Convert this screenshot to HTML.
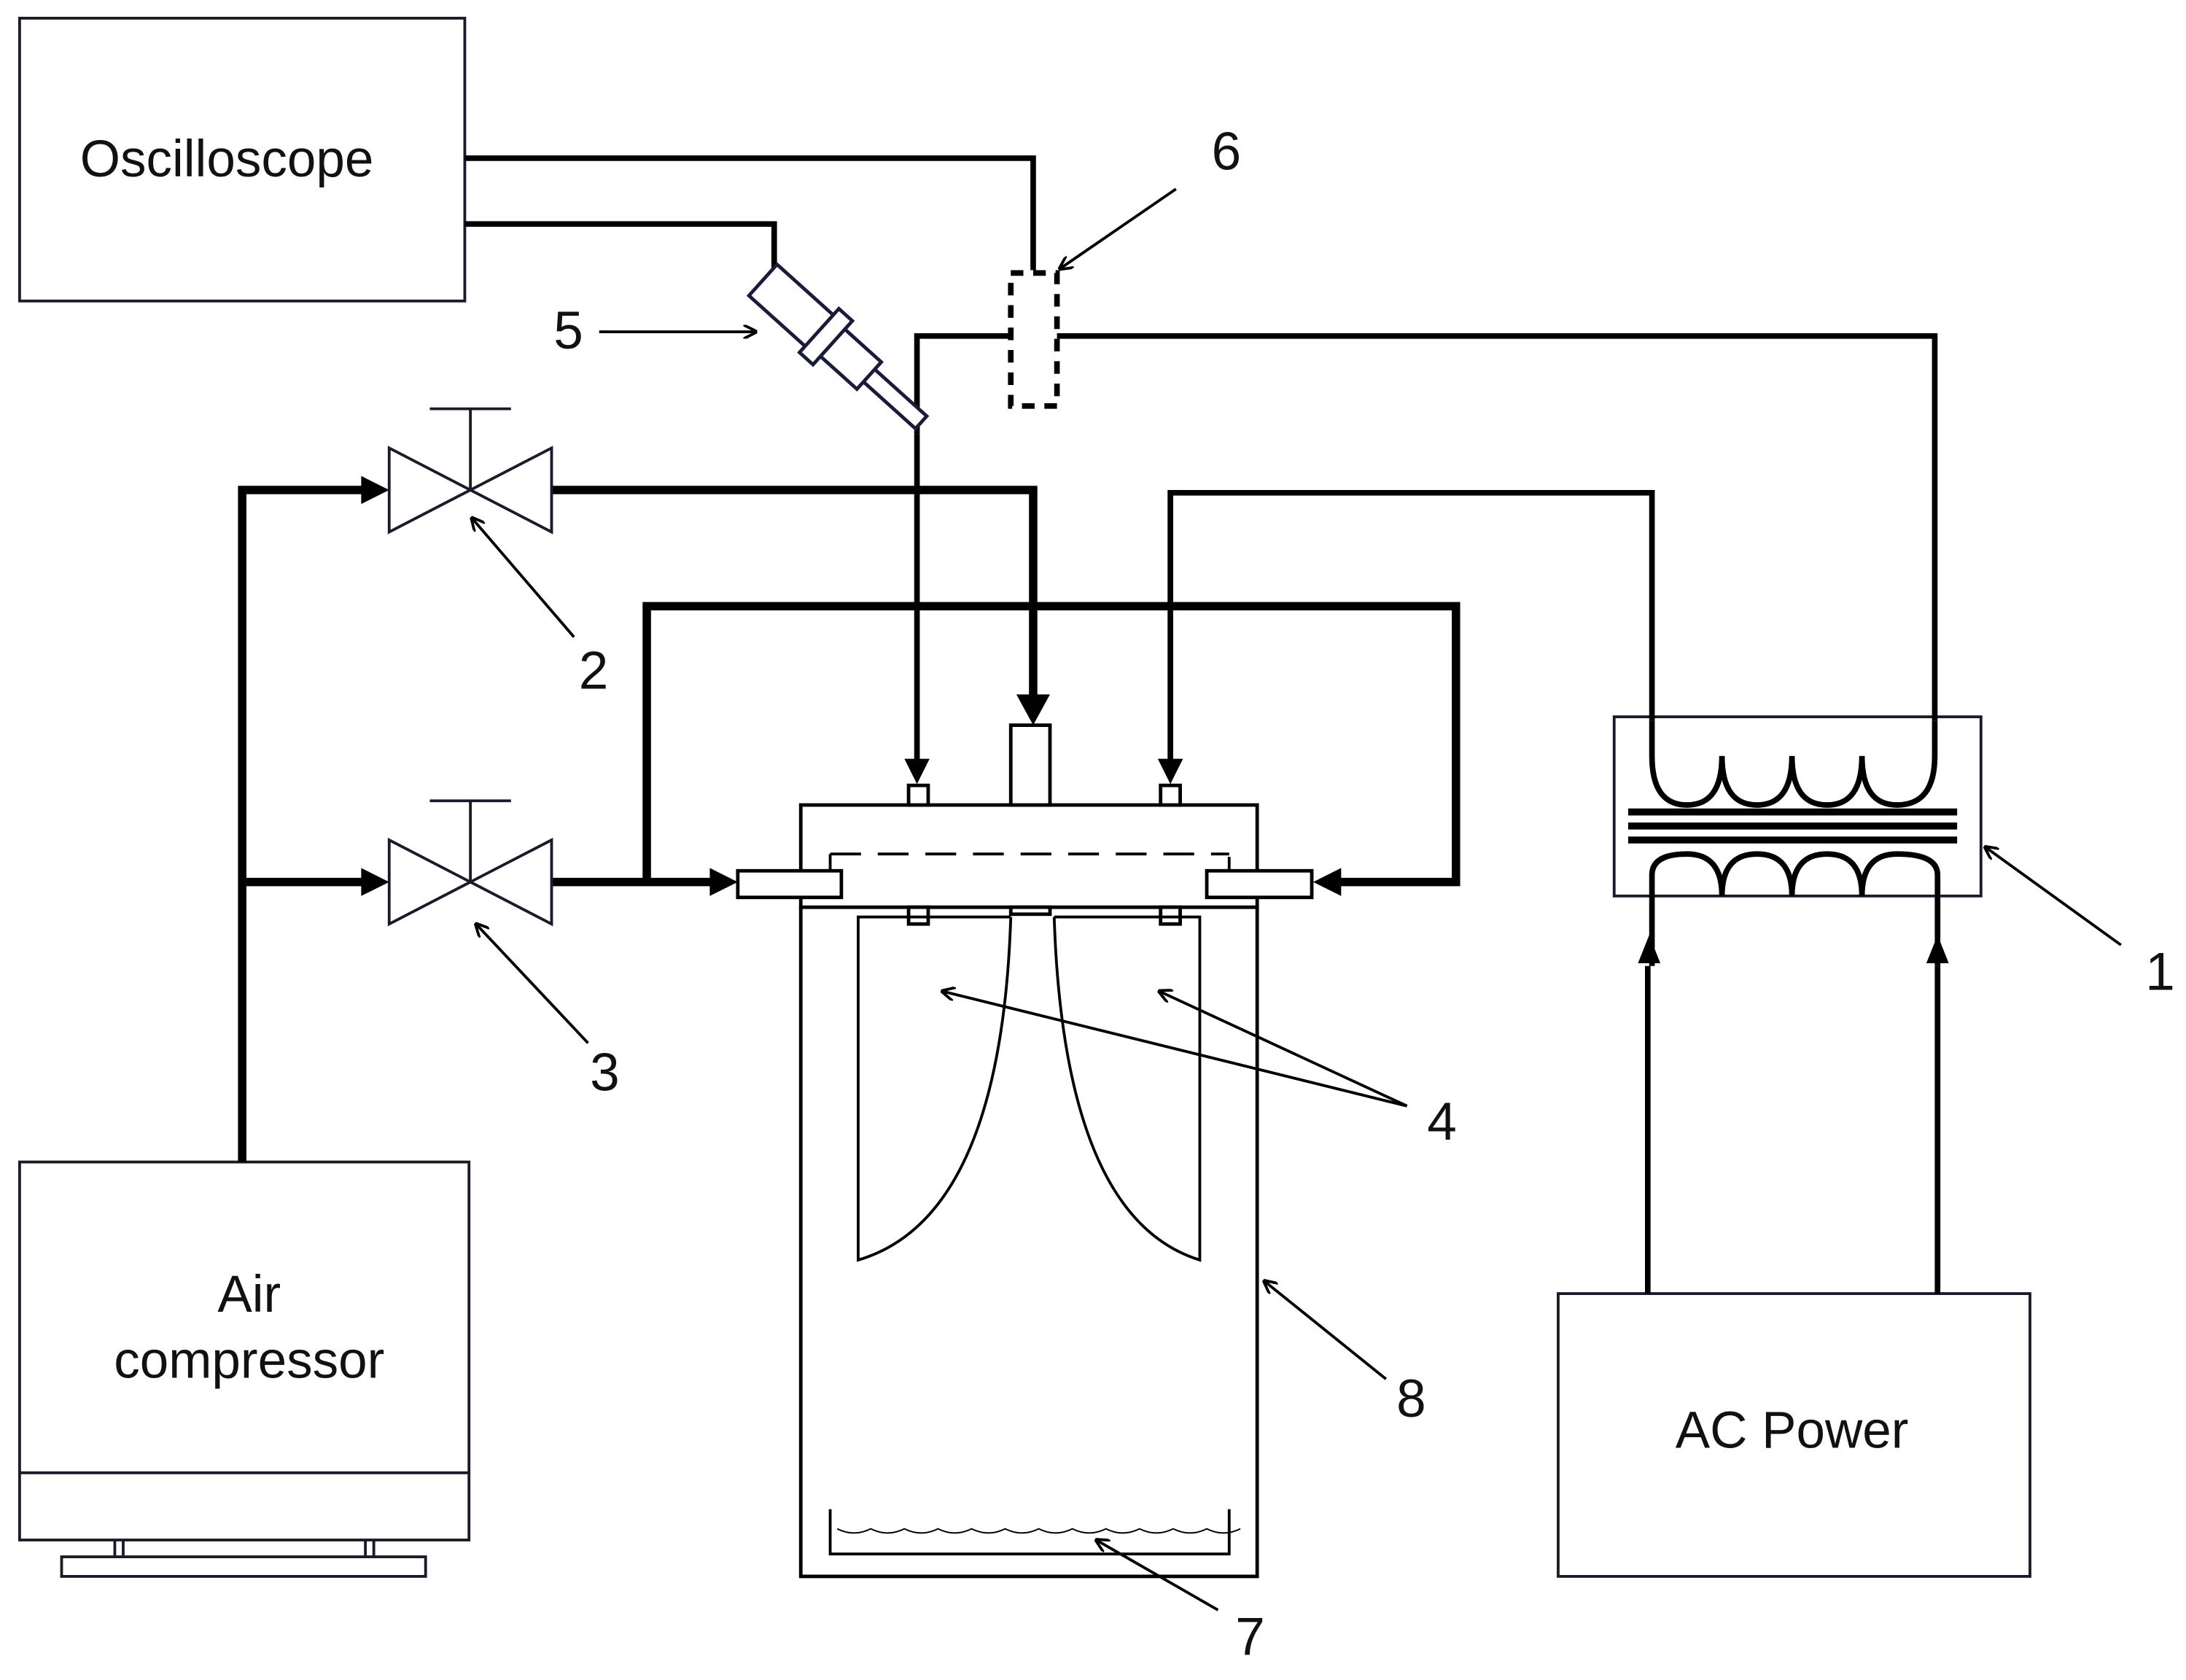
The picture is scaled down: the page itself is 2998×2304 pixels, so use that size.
<!DOCTYPE html>
<html><head><meta charset="utf-8"><style>html,body{margin:0;padding:0;background:#fff}svg{display:block}</style></head>
<body>
<svg width="2998" height="2304" viewBox="0 0 1561.46 1200" xmlns="http://www.w3.org/2000/svg" font-family="Liberation Sans, sans-serif">
<defs>
<marker id="a" markerWidth="10" markerHeight="10" refX="9" refY="5" orient="auto" markerUnits="userSpaceOnUse"><path d="M0,0 L10,5 L0,10" fill="none" stroke="#000" stroke-width="2"/></marker>
</defs>
<rect width="1561.46" height="1200" fill="#fff"/>
<g fill="none" stroke="#1a1a2a" stroke-width="2">
<rect x="14" y="13" width="318" height="202"/>
<rect x="14" y="830" width="321" height="270"/>
<line x1="14" y1="1052" x2="335" y2="1052"/>
<rect x="44" y="1112" width="260" height="14"/>
<line x1="82" y1="1100" x2="82" y2="1112"/><line x1="88" y1="1100" x2="88" y2="1112"/>
<line x1="261" y1="1100" x2="261" y2="1112"/><line x1="267" y1="1100" x2="267" y2="1112"/>
<rect x="1113" y="924" width="337" height="202"/>
<rect x="1153" y="512" width="262" height="128"/>
</g>
<g font-size="37" fill="#111" text-anchor="middle">
<text x="162" y="126">Oscilloscope</text>
<text x="178" y="937">Air</text>
<text x="178" y="984">compressor</text>
<text x="1280" y="1034">AC Power</text>
<text x="876" y="121" font-size="38">6</text>
<text x="406" y="249" font-size="38">5</text>
<text x="424" y="492" font-size="38">2</text>
<text x="432" y="779" font-size="38">3</text>
<text x="1030" y="814" font-size="38">4</text>
<text x="1008" y="1012" font-size="38">8</text>
<text x="893" y="1182" font-size="38">7</text>
<text x="1543" y="707" font-size="38">1</text>
</g>
<g fill="none" stroke="#000" stroke-width="4">
<polyline points="332,113 738,113 738,193"/>
<polyline points="332,160 553,160 553,192"/>
<polyline points="655,310 655,545"/>
<polyline points="655,310 655,240 722,240"/>
<polyline points="755,240 1382,240 1382,515"/>
<polyline points="836,545 836,352 1180,352 1180,515"/>
<line x1="1180" y1="640" x2="1180" y2="690"/><line x1="1384" y1="640" x2="1384" y2="690"/>
<line x1="1177" y1="690" x2="1177" y2="924"/><line x1="1384" y1="690" x2="1384" y2="924"/>
</g>
<g fill="none" stroke="#000" stroke-width="6">
<polyline points="173,830 173,350 262,350"/>
<line x1="173" y1="630" x2="262" y2="630"/>
<polyline points="394,350 738,350 738,498"/>
<line x1="394" y1="630" x2="510" y2="630"/>
<polyline points="462,630 462,433 1040,433 1040,630 955,630"/>
</g>
<g fill="#000">
<polygon points="258,340 278,350 258,360"/>
<polygon points="258,620 278,630 258,640"/>
<polygon points="507,620 527,630 507,640"/>
<polygon points="958,620 938,630 958,640"/>
<polygon points="726,496 750,496 738,518"/>
<polygon points="646,542 664,542 655,560"/>
<polygon points="827,542 845,542 836,560"/>
<polygon points="1170,688 1186,688 1178,668"/>
<polygon points="1376,688 1392,688 1384,668"/>
</g>
<g fill="#fff" stroke="#1a1a2a" stroke-width="2">
<polygon points="278,320 336,350 278,380"/><polygon points="394,320 336,350 394,380"/>
<polygon points="278,600 336,630 278,660"/><polygon points="394,600 336,630 394,660"/>
</g>
<g stroke="#1a1a2a" stroke-width="2">
<line x1="336" y1="350" x2="336" y2="292"/><line x1="307" y1="292" x2="365" y2="292"/>
<line x1="336" y1="630" x2="336" y2="572"/><line x1="307" y1="572" x2="365" y2="572"/>
</g>
<g transform="translate(545,200) rotate(42)" fill="#fff" stroke="#1a1a3a" stroke-width="2.5">
<rect x="100" y="-6" width="52" height="12"/>
<rect x="64" y="-13" width="38" height="26"/>
<rect x="0" y="-15" width="58" height="30"/>
<rect x="54" y="-21" width="13" height="42"/>
</g>
<rect x="722" y="195" width="33" height="95" fill="none" stroke="#000" stroke-width="4" stroke-dasharray="9,7"/>
<g fill="#fff" stroke="#000" stroke-width="2.5">
<rect x="572" y="648" width="326" height="478"/>
<rect x="572" y="575" width="326" height="73"/>
<rect x="722" y="518" width="28" height="57"/>
<rect x="649" y="561" width="14" height="14"/>
<rect x="829" y="561" width="14" height="14"/>
<rect x="649" y="648" width="14" height="12"/>
<rect x="829" y="648" width="14" height="12"/>
<rect x="722" y="648" width="28" height="5"/>
<rect x="527" y="622" width="74" height="19"/>
<rect x="862" y="622" width="75" height="19"/>
</g>
<g fill="none" stroke="#000" stroke-width="2">
<line x1="593" y1="610" x2="878" y2="610" stroke-dasharray="22,12"/>
<line x1="593" y1="610" x2="593" y2="622"/>
<line x1="878" y1="612" x2="878" y2="622"/>
<path d="M722,655 L613,655 L613,900 Q715,870 722,655"/>
<path d="M753,655 L857,655 L857,900 Q760,870 753,655"/>
<polyline points="593,1078 593,1110 878,1110 878,1078"/>
<path d="M598,1092 q12,6 24,0 q12,6 24,0 q12,6 24,0 q12,6 24,0 q12,6 24,0 q12,6 24,0 q12,6 24,0 q12,6 24,0 q12,6 24,0 q12,6 24,0 q12,6 24,0 q12,6 24,0" stroke-width="1"/>
</g>
<g fill="none" stroke="#000" stroke-width="4">
<path d="M1180,515 L1180,540 Q1180,575 1205,575 Q1230,575 1230,540 Q1230,575 1255,575 Q1280,575 1280,540 Q1280,575 1305,575 Q1330,575 1330,540 Q1330,575 1355,575 Q1382,575 1382,540 L1382,515"/>
<path d="M1180,640 L1180,625 Q1180,610 1205,610 Q1230,610 1230,640 Q1230,610 1255,610 Q1280,610 1280,640 Q1280,610 1305,610 Q1330,610 1330,640 Q1330,610 1355,610 Q1384,610 1384,625 L1384,640"/>
<g stroke-width="5"><line x1="1163" y1="580" x2="1398" y2="580"/><line x1="1163" y1="590" x2="1398" y2="590"/><line x1="1163" y1="600" x2="1398" y2="600"/></g>
</g>
<g stroke="#000" stroke-width="2" fill="none" marker-end="url(#a)">
<line x1="840" y1="135" x2="757" y2="192"/>
<line x1="428" y1="237" x2="540" y2="237"/>
<line x1="410" y1="455" x2="337" y2="370"/>
<line x1="420" y1="745" x2="340" y2="660"/>
<line x1="1005" y1="790" x2="673" y2="708"/>
<line x1="1005" y1="790" x2="828" y2="708"/>
<line x1="990" y1="985" x2="903" y2="915"/>
<line x1="870" y1="1150" x2="783" y2="1100"/>
<line x1="1515" y1="675" x2="1418" y2="605"/>
</g>
</svg>
</body></html>
